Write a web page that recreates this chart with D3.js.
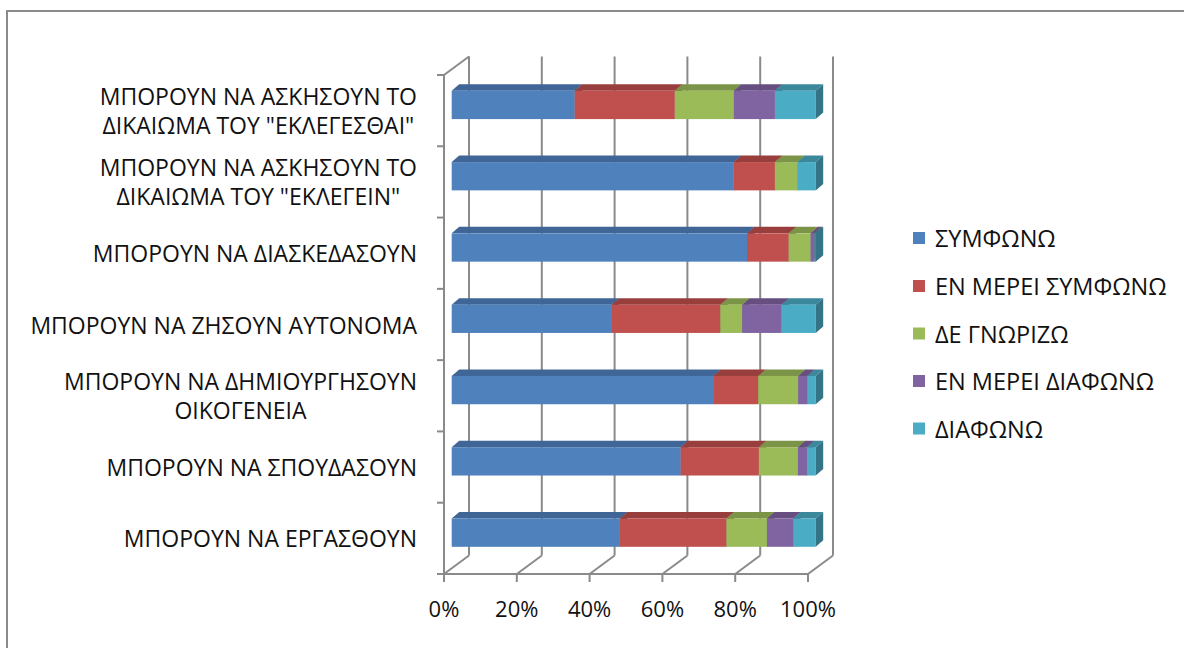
<!DOCTYPE html>
<html><head><meta charset="utf-8">
<script src="https://cdn.jsdelivr.net/npm/d3@7"></script>
<style>
body{margin:0;background:#fff;overflow:hidden}
text{font-family:"Open Sans",sans-serif;fill:#111}
</style>
</head><body><svg id="c" width="1184" height="648"></svg>
<script>
// ---- data (top to bottom as drawn) ----
const categories = [
  "ΜΠΟΡΟΥΝ ΝΑ ΑΣΚΗΣΟΥΝ ΤΟ ΔΙΚΑΙΩΜΑ ΤΟΥ \"ΕΚΛΕΓΕΣΘΑΙ\"",
  "ΜΠΟΡΟΥΝ ΝΑ ΑΣΚΗΣΟΥΝ ΤΟ ΔΙΚΑΙΩΜΑ ΤΟΥ \"ΕΚΛΕΓΕΙΝ\"",
  "ΜΠΟΡΟΥΝ ΝΑ ΔΙΑΣΚΕΔΑΣΟΥΝ",
  "ΜΠΟΡΟΥΝ ΝΑ ΖΗΣΟΥΝ ΑΥΤΟΝΟΜΑ",
  "ΜΠΟΡΟΥΝ ΝΑ ΔΗΜΙΟΥΡΓΗΣΟΥΝ ΟΙΚΟΓΕΝΕΙΑ",
  "ΜΠΟΡΟΥΝ ΝΑ ΣΠΟΥΔΑΣΟΥΝ",
  "ΜΠΟΡΟΥΝ ΝΑ ΕΡΓΑΣΘΟΥΝ"
];
const categoryLines = [
  ["ΜΠΟΡΟΥΝ ΝΑ ΑΣΚΗΣΟΥΝ ΤΟ", "ΔΙΚΑΙΩΜΑ ΤΟΥ \"ΕΚΛΕΓΕΣΘΑΙ\""],
  ["ΜΠΟΡΟΥΝ ΝΑ ΑΣΚΗΣΟΥΝ ΤΟ", "ΔΙΚΑΙΩΜΑ ΤΟΥ \"ΕΚΛΕΓΕΙΝ\""],
  ["ΜΠΟΡΟΥΝ ΝΑ ΔΙΑΣΚΕΔΑΣΟΥΝ"],
  ["ΜΠΟΡΟΥΝ ΝΑ ΖΗΣΟΥΝ ΑΥΤΟΝΟΜΑ"],
  ["ΜΠΟΡΟΥΝ ΝΑ ΔΗΜΙΟΥΡΓΗΣΟΥΝ", "ΟΙΚΟΓΕΝΕΙΑ"],
  ["ΜΠΟΡΟΥΝ ΝΑ ΣΠΟΥΔΑΣΟΥΝ"],
  ["ΜΠΟΡΟΥΝ ΝΑ ΕΡΓΑΣΘΟΥΝ"]
];
const seriesNames = ["ΣΥΜΦΩΝΩ", "ΕΝ ΜΕΡΕΙ ΣΥΜΦΩΝΩ", "ΔΕ ΓΝΩΡΙΖΩ", "ΕΝ ΜΕΡΕΙ ΔΙΑΦΩΝΩ", "ΔΙΑΦΩΝΩ"];
const symfono         = [33.8, 77.5, 81.2, 43.9, 71.9, 62.9, 46.2];
const enMereiSymfono  = [27.5, 11.3, 11.4, 29.9, 12.3, 21.5, 29.3];
const deGnorizo       = [16.2,  6.2,  6.0,  6.0, 11.0, 10.7, 11.1];
const enMereiDiafono  = [11.3,  0.0,  1.1, 10.8,  2.5,  2.5,  7.2];
const diafono         = [11.2,  5.0,  0.3,  9.4,  2.3,  2.4,  6.2];
const tickValues = [0, 0.2, 0.4, 0.6, 0.8, 1.0];
const tickLabels = ["0%", "20%", "40%", "60%", "80%", "100%"];
const colors = ["#4F81BD", "#C0504D", "#9BBB59", "#8064A2", "#4BACC6"];

// ---- build table ----
const seriesValues = [symfono, enMereiSymfono, deGnorizo, enMereiDiafono, diafono];
const table = categories.map((c, i) => {
  const row = {cat: c};
  seriesNames.forEach((s, j) => row[s] = seriesValues[j][i]);
  return row;
});
const stacked = d3.stack().keys(seriesNames).offset(d3.stackOffsetExpand)(table);

const svg = d3.select("#c");
// outer frame
svg.append("rect").attr("x", 7).attr("y", 11).attr("width", 1300).attr("height", 800)
  .attr("fill", "#fff").attr("stroke", "#8a8a8a").attr("stroke-width", 2);

const x = d3.scaleLinear().domain([0, 1]).range([444, 808]);
const y = d3.scaleBand().domain(categories).range([75, 574]).padding(0);
const DX = 25, DY = -18.5;          // back wall offset
const BX = 7.7, BY = -5.7;          // bar front plane offset
const dX = 7.5, dY = -6.5;          // bar depth
const H = 28.3;                     // bar thickness
const y0 = y.range()[0], y1 = y.range()[1];
const grid = "#8a8a8a";
const FS = 23;

const g = svg.append("g");
g.selectAll("line.grid").data(tickValues).join("line")
  .attr("x1", d => x(d) + DX).attr("x2", d => x(d) + DX)
  .attr("y1", y0 + DY).attr("y2", y1 + DY)
  .attr("stroke", grid).attr("stroke-width", 2);
g.selectAll("line.floor").data(tickValues).join("line")
  .attr("x1", d => x(d)).attr("x2", d => x(d) + DX)
  .attr("y1", y1).attr("y2", y1 + DY)
  .attr("stroke", grid).attr("stroke-width", 2);
g.append("line").attr("x1", x(0)).attr("x2", x(1)).attr("y1", y1).attr("y2", y1)
  .attr("stroke", grid).attr("stroke-width", 2);
g.append("line").attr("x1", x(0)).attr("x2", x(0)).attr("y1", y0).attr("y2", y1)
  .attr("stroke", grid).attr("stroke-width", 2);
g.append("line").attr("x1", x(0)).attr("x2", x(0) + DX).attr("y1", y0).attr("y2", y0 + DY)
  .attr("stroke", grid).attr("stroke-width", 2);
const bounds = categories.map(c => y(c)).concat([y1]);
g.selectAll("line.ctick").data(bounds).join("line")
  .attr("x1", x(0) - 7).attr("x2", x(0)).attr("y1", d => d).attr("y2", d => d)
  .attr("stroke", grid).attr("stroke-width", 2);
g.selectAll("line.vtick").data(tickValues).join("line")
  .attr("x1", d => x(d)).attr("x2", d => x(d)).attr("y1", y1).attr("y2", y1 + 8)
  .attr("stroke", grid).attr("stroke-width", 2);
g.selectAll("text.vlab").data(tickValues).join("text")
  .attr("x", d => x(d)).attr("y", 617).attr("text-anchor", "middle")
  .attr("font-size", 22).text((d, i) => tickLabels[i]);

// bars
const bars = svg.append("g");
categories.forEach((c, ci) => {
  const yc = y(c) + y.bandwidth() / 2 + BY;
  const top = yc - H / 2, bot = yc + H / 2;
  stacked.forEach((s, si) => {
    const d = s[ci];
    if (d[1] - d[0] <= 0) return;
    const xa = x(d[0]) + BX, xb = x(d[1]) + BX;
    const col = d3.color(colors[si]);
    const bg = bars.append("g");
    bg.append("path").attr("d", `M${xa},${top}L${xa + dX},${top + dY}L${xb + dX},${top + dY}L${xb},${top}Z`)
      .attr("fill", col.darker(0.65));
    bg.append("rect").attr("x", xa).attr("y", top).attr("width", xb - xa).attr("height", H)
      .attr("fill", colors[si]);
    bg.append("path").attr("d", `M${xb},${top}L${xb + dX},${top + dY}L${xb + dX},${bot + dY}L${xb},${bot}Z`)
      .attr("fill", col.darker(1.1));
  });
});

// category labels
const lab = svg.append("g");
categories.forEach((c, ci) => {
  const lines = categoryLines[ci];
  const cy = y(c) + y.bandwidth() / 2;
  const lh = 29;
  const widths = lines.map(l => {
    const tt = lab.append("text").attr("font-size", FS).text(l);
    const w = tt.node().getComputedTextLength(); tt.remove(); return w;
  });
  const center = 417 - d3.max(widths) / 2;
  lines.forEach((l, li) => {
    lab.append("text").attr("font-size", FS).attr("text-anchor", "middle")
      .attr("x", center)
      .attr("y", cy + (li - (lines.length - 1) / 2) * lh)
      .attr("dominant-baseline", "central")
      .text(l);
  });
});

// legend
const leg = svg.append("g");
const legY = [238, 286, 333.5, 381, 428.5];
seriesNames.forEach((s, i) => {
  leg.append("rect").attr("x", 913).attr("y", legY[i] - 6).attr("width", 12).attr("height", 12)
    .attr("fill", colors[i]);
  leg.append("text").attr("x", 935).attr("y", legY[i]).attr("dominant-baseline", "central")
    .attr("font-size", 23.5).text(s);
});
</script>
</body></html>
